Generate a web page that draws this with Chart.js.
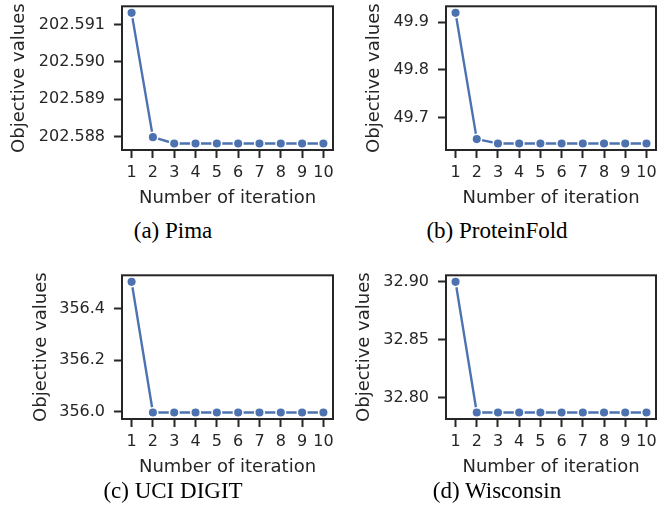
<!DOCTYPE html>
<html>
<head>
<meta charset="utf-8">
<script src="https://cdn.jsdelivr.net/npm/chart.js@4.4.0/dist/chart.umd.min.js"></script>
<style>
  body { margin: 0; background: #fff; }
  #wrap { position: relative; width: 669px; height: 510px; overflow: hidden; }
  canvas { position: absolute; }
  .cap {
    position: absolute; transform: translate(-50%, -50%);
    font-family: "Liberation Serif", "Times New Roman", serif;
    font-size: 23px; color: #000; white-space: nowrap; line-height: 1;
  }
</style>
</head>
<body>
<div id="wrap">
  <canvas id="pima" width="340" height="212" style="left:0;top:0"></canvas>
  <canvas id="protein" width="329" height="212" style="left:340px;top:0"></canvas>
  <canvas id="digit" width="340" height="212" style="left:0;top:269px"></canvas>
  <canvas id="wisconsin" width="329" height="212" style="left:340px;top:269px"></canvas>
  <div class="cap" style="left:173px;top:230px">(a) Pima</div>
  <div class="cap" style="left:497px;top:230px">(b) ProteinFold</div>
  <div class="cap" style="left:173px;top:490px">(c) UCI DIGIT</div>
  <div class="cap" style="left:497px;top:490px">(d) Wisconsin</div>
</div>
<script>
const iterations = [1, 2, 3, 4, 5, 6, 7, 8, 9, 10];

const pimaValues = [202.59132, 202.58798, 202.58781, 202.58781, 202.58781, 202.58781, 202.58781, 202.58781, 202.58781, 202.58781];
const proteinValues = [49.920, 49.6545, 49.6453, 49.6453, 49.6453, 49.6453, 49.6453, 49.6453, 49.6453, 49.6453];
const digitValues = [356.504, 355.998, 355.998, 355.998, 355.998, 355.998, 355.998, 355.998, 355.998, 355.998];
const wisconsinValues = [32.900, 32.7872, 32.7872, 32.7872, 32.7872, 32.7872, 32.7872, 32.7872, 32.7872, 32.7872];

const pimaTicks = [202.588, 202.589, 202.590, 202.591];
const proteinTicks = [49.7, 49.8, 49.9];
const digitTicks = [356.0, 356.2, 356.4];
const wisconsinTicks = [32.80, 32.85, 32.90];

const ink = "#262626";
const blue = "#4c72b0";

Chart.defaults.font.family = "DejaVu Sans";
Chart.defaults.font.size = 18;
Chart.defaults.color = ink;

// frame around the plot area (seaborn "ticks" style box)
const frame = {
  id: "frame",
  afterDraw(chart) {
    const a = chart.chartArea, c = chart.ctx;
    c.save();
    c.strokeStyle = ink;
    c.lineWidth = 2;
    c.strokeRect(a.left, a.top, a.right - a.left, a.bottom - a.top);
    c.restore();
  }
};

function makePanel(id, values, yTicks, decimals, yWidth, padRight, titlePad) {
  // matplotlib-like 5% margins
  const lo = Math.min(...values), hi = Math.max(...values);
  const m = (hi - lo) * 0.05;
  new Chart(document.getElementById(id), {
    type: "line",
    data: {
      datasets: [{
        data: iterations.map((x, i) => ({ x: x, y: values[i] })),
        borderColor: blue,
        borderWidth: 2.4,
        pointRadius: 4.8,
        pointBackgroundColor: blue,
        pointBorderColor: "#fff",
        pointBorderWidth: 1.5,
        tension: 0
      }]
    },
    options: {
      responsive: false,
      animation: false,
      devicePixelRatio: 1,
      layout: { padding: { top: 4, right: padRight, bottom: 0, left: 0 } },
      plugins: { legend: { display: false }, tooltip: { enabled: false } },
      scales: {
        x: {
          type: "linear",
          min: 0.55,
          max: 10.45,
          afterBuildTicks: s => { s.ticks = iterations.map(v => ({ value: v })); },
          afterFit: s => { s.height = 62; s.paddingLeft = 0; s.paddingRight = 0; },
          ticks: { autoSkip: false, maxRotation: 0, padding: 5, font: { size: 16 }, callback: v => String(v) },
          grid: { drawOnChartArea: false, tickLength: 8, tickWidth: 2, tickColor: ink },
          border: { display: false },
          title: { display: true, text: "Number of iteration", padding: { top: 0, bottom: 3 } }
        },
        y: {
          min: lo - m,
          max: hi + m,
          afterBuildTicks: s => { s.ticks = yTicks.map(v => ({ value: v })); },
          afterFit: s => { s.width = yWidth; s.paddingTop = 0; s.paddingBottom = 0; },
          ticks: { padding: 9, font: { size: 16 }, callback: v => v.toFixed(decimals) },
          grid: { drawOnChartArea: false, tickLength: 8, tickWidth: 2, tickColor: ink },
          border: { display: false },
          title: { display: true, text: "Objective values", padding: { top: titlePad, bottom: 0 } }
        }
      }
    },
    plugins: [frame]
  });
}

makePanel("pima", pimaValues, pimaTicks, 3, 122, 7, 9);
makePanel("protein", proteinValues, proteinTicks, 1, 106, 13, 24);
makePanel("digit", digitValues, digitTicks, 1, 122, 7, 31);
makePanel("wisconsin", wisconsinValues, wisconsinTicks, 2, 106, 13, 14);
</script>
</body>
</html>
